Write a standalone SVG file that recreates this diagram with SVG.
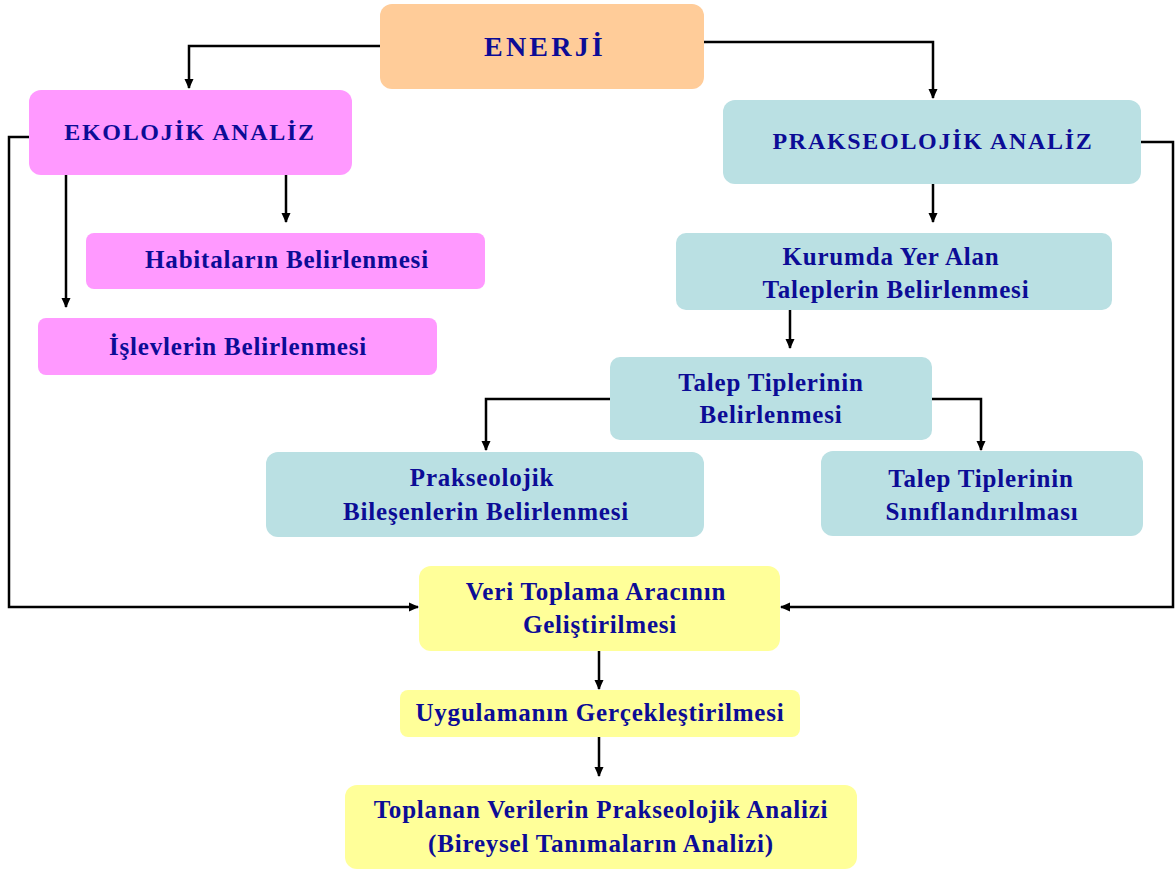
<svg xmlns="http://www.w3.org/2000/svg" width="1176" height="872" viewBox="0 0 1176 872">
<style>
.t{font-family:"Liberation Serif","Times New Roman",serif;font-weight:bold;font-size:25px;letter-spacing:0.8px;fill:#0C0C96;text-anchor:middle}
.cap{font-size:24px;letter-spacing:1.7px}
.pk{fill:#FF99FF}
.bl{fill:#BAE0E3}
.yl{fill:#FFFF99}
.c{fill:none;stroke:#000;stroke-width:2.5}
</style>
<defs>
<marker id="a" markerWidth="10" markerHeight="10" refX="9" refY="5" orient="auto" markerUnits="userSpaceOnUse">
<path d="M0,0.5 L10,5 L0,9.5 z" fill="#000"/>
</marker>
</defs>
<rect width="1176" height="872" fill="#fff"/>
<g id="connectors">
<path class="c" d="M380,46 H189 V88" marker-end="url(#a)"/>
<path class="c" d="M704,42 H933 V98" marker-end="url(#a)"/>
<path class="c" d="M29,137 H9 V607 H418" marker-end="url(#a)"/>
<path class="c" d="M1141,142 H1173 V607 H781" marker-end="url(#a)"/>
<path class="c" d="M66,175 V307" marker-end="url(#a)"/>
<path class="c" d="M286,175 V222" marker-end="url(#a)"/>
<path class="c" d="M933,184 V222" marker-end="url(#a)"/>
<path class="c" d="M790,310 V348" marker-end="url(#a)"/>
<path class="c" d="M610,399 H486 V450" marker-end="url(#a)"/>
<path class="c" d="M932,399 H981 V450" marker-end="url(#a)"/>
<path class="c" d="M599,651 V689" marker-end="url(#a)"/>
<path class="c" d="M599,737 V776" marker-end="url(#a)"/>
</g>
<g id="enerji">
<rect x="380" y="4" width="324" height="85" rx="12" fill="#FFCC99"/>
<text class="t" x="545" y="56" style="font-size:28px;letter-spacing:3.2px">ENERJİ</text>
</g>
<g id="ekolojik">
<rect class="pk" x="29" y="90" width="323" height="85" rx="12"/>
<text class="t cap" x="190" y="140">EKOLOJİK ANALİZ</text>
</g>
<g id="habitalar">
<rect class="pk" x="86" y="233" width="399" height="56" rx="8"/>
<text class="t" x="287" y="268">Habitaların Belirlenmesi</text>
</g>
<g id="islevler">
<rect class="pk" x="38" y="318" width="399" height="57" rx="8"/>
<text class="t" x="238" y="355">İşlevlerin Belirlenmesi</text>
</g>
<g id="prakseolojik">
<rect class="bl" x="723" y="100" width="418" height="84" rx="12"/>
<text class="t cap" x="933" y="149">PRAKSEOLOJİK ANALİZ</text>
</g>
<g id="kurumda">
<rect class="bl" x="676" y="233" width="436" height="77" rx="10"/>
<text class="t" x="891" y="265">Kurumda Yer Alan</text>
<text class="t" x="896" y="298">Taleplerin Belirlenmesi</text>
</g>
<g id="talep">
<rect class="bl" x="610" y="357" width="322" height="83" rx="10"/>
<text class="t" x="771" y="391">Talep Tiplerinin</text>
<text class="t" x="771" y="423">Belirlenmesi</text>
</g>
<g id="bilesenler">
<rect class="bl" x="266" y="452" width="438" height="85" rx="12"/>
<text class="t" x="482" y="486">Prakseolojik</text>
<text class="t" x="486" y="520">Bileşenlerin Belirlenmesi</text>
</g>
<g id="siniflandirma">
<rect class="bl" x="821" y="451" width="322" height="85" rx="12"/>
<text class="t" x="981" y="487">Talep Tiplerinin</text>
<text class="t" x="982" y="520">Sınıflandırılması</text>
</g>
<g id="veri">
<rect class="yl" x="419" y="566" width="361" height="85" rx="12"/>
<text class="t" x="596" y="600">Veri Toplama Aracının</text>
<text class="t" x="600" y="633">Geliştirilmesi</text>
</g>
<g id="uygulama">
<rect class="yl" x="400" y="690" width="400" height="47" rx="8"/>
<text class="t" x="600" y="721">Uygulamanın Gerçekleştirilmesi</text>
</g>
<g id="toplanan">
<rect class="yl" x="345" y="785" width="512" height="84" rx="12"/>
<text class="t" x="601" y="818">Toplanan Verilerin Prakseolojik Analizi</text>
<text class="t" x="601" y="852">(Bireysel Tanımaların Analizi)</text>
</g>
</svg>
